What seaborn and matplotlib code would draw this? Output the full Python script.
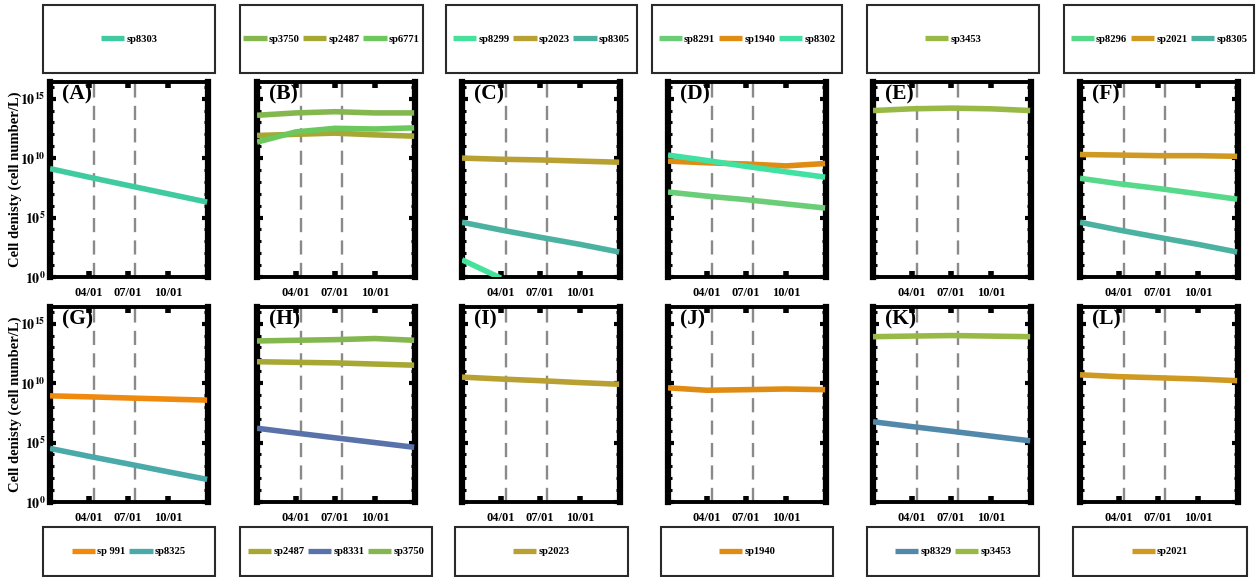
import numpy as np
import pandas as pd
import matplotlib
matplotlib.use("Agg")
import matplotlib.pyplot as plt
import matplotlib.ticker as mticker
from matplotlib.patches import Rectangle
import seaborn as sns

# ---------------- data ----------------
DATES = ["2021-01-01", "2021-04-01", "2021-07-01", "2021-10-01", "2021-12-31"]
NAN = np.nan

panel_labels = ["(A)", "(B)", "(C)", "(D)", "(E)", "(F)",
                "(G)", "(H)", "(I)", "(J)", "(K)", "(L)"]

species_A = ["sp8303"]
values_A = [[1.3e9, 2.5e8, 5e7, 1e7, 2e6]]

species_B = ["sp3750", "sp2487", "sp6771"]
values_B = [[4e13, 6.3e13, 8e13, 6.3e13, 6.3e13],
            [8e11, 1e12, 1.26e12, 9e11, 7e11],
            [2.2e11, 1.6e12, 3.2e12, 2.8e12, 3.5e12]]

species_C = ["sp8299", "sp2023", "sp8305"]
values_C = [[28, 0.8, NAN, NAN, NAN],
            [1e10, 8e9, 7e9, 5.6e9, 4.5e9],
            [4e4, 9e3, 2.2e3, 560, 126]]

species_D = ["sp8291", "sp1940", "sp8302"]
values_D = [[1.4e7, 6.3e6, 3.2e6, 1.4e6, 6.3e5],
            [5.6e9, 4e9, 3.2e9, 2.2e9, 3.5e9],
            [1.8e10, 6.3e9, 2e9, 7e8, 2.5e8]]

species_E = ["sp3453"]
values_E = [[1e14, 1.4e14, 1.6e14, 1.4e14, 1e14]]

species_F = ["sp8296", "sp2021", "sp8305"]
values_F = [[2e8, 7e7, 2.8e7, 1e7, 3.5e6],
            [2e10, 1.8e10, 1.6e10, 1.6e10, 1.4e10],
            [4e4, 9e3, 2.2e3, 560, 126]]

species_G = ["sp 991", "sp8325"]
values_G = [[8.5e8, 7e8, 5.6e8, 4.5e8, 3.7e8],
            [3.2e4, 7e3, 1.6e3, 350, 80]]

species_H = ["sp2487", "sp8331", "sp3750"]
values_H = [[6.3e11, 5.6e11, 5e11, 4e11, 3.2e11],
            [1.6e6, 6.3e5, 2.5e5, 1e5, 4e4],
            [3.5e13, 4e13, 4.5e13, 5.6e13, 4e13]]

species_I = ["sp2023"]
values_I = [[3.2e10, 2.2e10, 1.6e10, 1.1e10, 8e9]]

species_J = ["sp1940"]
values_J = [[4e9, 2.5e9, 2.8e9, 3.2e9, 2.8e9]]

species_K = ["sp8329", "sp3453"]
values_K = [[5.6e6, 2.2e6, 9e5, 3.5e5, 1.4e5],
            [8e13, 9e13, 1e14, 9e13, 8e13]]

species_L = ["sp2021"]
values_L = [[5e10, 3.5e10, 2.8e10, 2.2e10, 1.6e10]]

colors = {
    "sp8303": "#3fcb9f", "sp3750": "#84b84f", "sp2487": "#a7a734",
    "sp6771": "#6cc85c", "sp8299": "#46e29c", "sp2023": "#b9a032",
    "sp8305": "#4bb1a0", "sp8291": "#6ccd78", "sp1940": "#e08c12",
    "sp8302": "#41e1a3", "sp3453": "#99b946", "sp8296": "#56d98b",
    "sp2021": "#d09a22", "sp 991": "#f08a0e", "sp8325": "#4aa9a9",
    "sp8331": "#5a72aa", "sp8329": "#5289aa",
}

xtick_dates = ["2021-04-01", "2021-07-01", "2021-10-01"]
xtick_labels = ["04/01", "07/01", "10/01"]
event_dates = ["2021-04-13", "2021-07-17"]

panels = [(species_A, values_A), (species_B, values_B), (species_C, values_C),
          (species_D, values_D), (species_E, values_E), (species_F, values_F),
          (species_G, values_G), (species_H, values_H), (species_I, values_I),
          (species_J, values_J), (species_K, values_K), (species_L, values_L)]

# ---------------- style ----------------
sns.set_theme(style="white")
plt.rcParams["font.family"] = ["Liberation Serif", "DejaVu Serif"]
plt.rcParams["font.weight"] = "bold"
plt.rcParams["mathtext.fontset"] = "stix"
plt.rcParams["text.color"] = "black"
plt.rcParams["xtick.color"] = "black"
plt.rcParams["ytick.color"] = "black"
plt.rcParams["axes.labelcolor"] = "black"

W, H = 1260, 577
fig = plt.figure(figsize=(W / 100, H / 100), dpi=100)

col_left = [50, 257, 462, 668, 873, 1080]
ax_w = 158
row_top = [82, 307]
ax_h = 195

top_boxes = [(43, 215), (240, 423), (446, 637), (652, 842), (867, 1039), (1064, 1254)]
bot_boxes = [(43, 215), (240, 432), (455, 628), (661, 833), (867, 1039), (1073, 1247)]
top_box_y = (5, 73)
bot_box_y = (527, 576)

xmin = pd.Timestamp("2021-01-01")
xmax = pd.Timestamp("2022-01-02")

for i, (spp, vals) in enumerate(panels):
    r, c = divmod(i, 6)
    l = col_left[c] / W
    b = 1 - (row_top[r] + ax_h) / H
    ax = fig.add_axes([l, b, ax_w / W, ax_h / H])

    rows = []
    for s, v in zip(spp, vals):
        for d, val in zip(DATES, v):
            rows.append({"date": pd.Timestamp(d), "value": val, "species": s})
    df = pd.DataFrame(rows).dropna()
    sns.lineplot(data=df, x="date", y="value", hue="species", hue_order=spp,
                 palette={s: colors[s] for s in spp}, linewidth=4.0,
                 legend=False, ax=ax, solid_capstyle="butt", zorder=3)
    handles = list(ax.lines)

    for ed in event_dates:
        ax.axvline(pd.Timestamp(ed), color="#8a8a8a", lw=1.7,
                   linestyle=(0, (6, 3.5)), zorder=2)

    ax.set_yscale("log")
    ax.set_ylim(1, 10 ** 16.4)
    ax.set_xlim(xmin, xmax)
    ax.set_xlabel("")
    ax.set_ylabel("")
    ax.set_xticks([pd.Timestamp(d) for d in xtick_dates])
    ax.set_xticklabels(xtick_labels, fontsize=9, fontweight="bold")
    ax.yaxis.set_major_locator(mticker.FixedLocator([1, 1e5, 1e10, 1e15]))
    ax.yaxis.set_minor_locator(mticker.FixedLocator([10.0 ** k for k in range(0, 17)]))
    ax.yaxis.set_minor_formatter(mticker.NullFormatter())
    if c == 0:
        ax.set_yticklabels([r"$\mathbf{10^{0}}$", r"$\mathbf{10^{5}}$",
                            r"$\mathbf{10^{10}}$", r"$\mathbf{10^{15}}$"], fontsize=10)
        ax.set_ylabel("Cell denisty (cell number/L)", fontsize=10.5,
                      fontweight="bold", labelpad=-1)
    else:
        ax.set_yticklabels([])
    ax.tick_params(axis="x", which="major", direction="in", top=True, bottom=True,
                   length=4, width=4, color="black", pad=7)
    ax.tick_params(axis="y", which="major", direction="in", left=True, right=True,
                   length=4, width=3, color="black", pad=3)
    ax.tick_params(axis="y", which="minor", direction="in", left=True, right=True,
                   length=3, width=2.2, color="black")
    for side in ["left", "right"]:
        ax.spines[side].set_linewidth(4.5)
        ax.spines[side].set_color("black")
    for side in ["top", "bottom"]:
        ax.spines[side].set_linewidth(2.8)
        ax.spines[side].set_color("black")
    ax.grid(False)

    ax.text(0.075, 0.985, panel_labels[i], transform=ax.transAxes, ha="left",
            va="top", fontsize=15.5, fontweight="bold", color="black", zorder=5)

    # legend box
    bx0, bx1 = (top_boxes if r == 0 else bot_boxes)[c]
    by0, by1 = top_box_y if r == 0 else bot_box_y
    rect = Rectangle((bx0 / W, 1 - by1 / H), (bx1 - bx0) / W, (by1 - by0) / H,
                     transform=fig.transFigure, fill=False, edgecolor="#2a2a2a",
                     linewidth=1.5)
    fig.add_artist(rect)
    leg = ax.legend(handles, spp, loc="center",
                    bbox_to_anchor=((bx0 + bx1) / 2 / W, 1 - (by0 + by1) / 2 / H),
                    bbox_transform=fig.transFigure, frameon=False, ncol=len(spp),
                    prop={"family": "Liberation Serif", "weight": "bold", "size": 7.6},
                    handlelength=2.2, handletextpad=0.2, columnspacing=0.35,
                    borderaxespad=0, borderpad=0.2)
    for lh in leg.get_lines():
        lh.set_linewidth(3.8)

fig.savefig("out.png", dpi=100)
